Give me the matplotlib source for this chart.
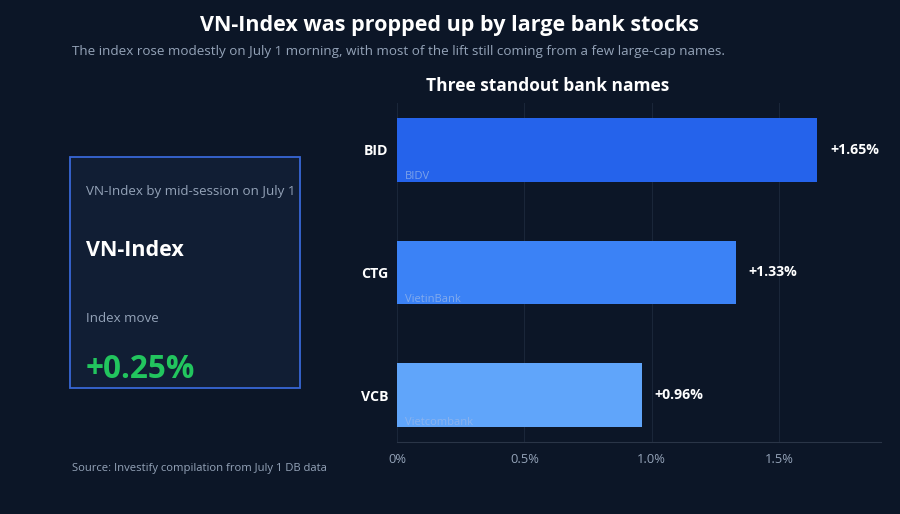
import matplotlib.pyplot as plt
from matplotlib.patches import Rectangle

plt.rcParams['font.family'] = ['Open Sans', 'Noto Sans', 'DejaVu Sans']

tickers = ["BID", "CTG", "VCB"]
bank_names = ["BIDV", "VietinBank", "Vietcombank"]
moves = [1.65, 1.33, 0.96]
bar_colors = ["#2563eb", "#3b82f6", "#60a5fa"]
x_ticks = [0, 0.5, 1.0, 1.5]
x_tick_labels = ["0%", "0.5%", "1.0%", "1.5%"]
index_move = 0.25

BG = "#0c1627"
W, H = 900, 514


def main():
    fig = plt.figure(figsize=(W / 100, H / 100), dpi=100, facecolor=BG)

    # ---- titles ----
    fig.text(450 / W, 1 - 25 / H, "VN-Index was propped up by large bank stocks",
             ha="center", va="center", fontsize=15.5, fontweight="bold", color="white")
    fig.text(72 / W, 1 - 52 / H,
             "The index rose modestly on July 1 morning, with most of the lift still coming from a few large-cap names.",
             ha="left", va="center", fontsize=9.7, color="#94a3b8")
    fig.text(548 / W, 1 - 86 / H, "Three standout bank names",
             ha="center", va="center", fontsize=12.5, fontweight="bold", color="white")
    fig.text(72 / W, 1 - 468 / H, "Source: Investify compilation from July 1 DB data",
             ha="left", va="center", fontsize=8.1, color="#94a3b8")

    # ---- KPI card ----
    bx0, by0, bx1, by1 = 70, 157, 300, 388
    fig.patches.append(Rectangle((bx0 / W, 1 - by1 / H), (bx1 - bx0) / W, (by1 - by0) / H,
                                 transform=fig.transFigure, facecolor="#111e34",
                                 edgecolor="#3867d6", linewidth=1.3))
    fig.text(86 / W, 1 - 192 / H, "VN-Index by mid-session on July 1",
             ha="left", va="center", fontsize=9.6, color="#94a3b8")
    fig.text(86 / W, 1 - 251 / H, "VN-Index",
             ha="left", va="center", fontsize=15.5, fontweight="bold", color="white")
    fig.text(86 / W, 1 - 318 / H, "Index move",
             ha="left", va="center", fontsize=9.6, color="#94a3b8")
    fig.text(86 / W, 1 - 369 / H, f"+{index_move:.2f}%",
             ha="left", va="center", fontsize=22.7, fontweight="bold", color="#22c55e")

    # ---- bar chart ----
    ax_l, ax_r, ax_t, ax_b = 397, 881, 103, 442
    ax = fig.add_axes([ax_l / W, 1 - ax_b / H, (ax_r - ax_l) / W, (ax_b - ax_t) / H])
    ax.set_facecolor(BG)
    ypos = list(range(len(tickers)))
    ax.barh(ypos, moves, height=0.52, color=bar_colors, zorder=2)
    ax.set_xlim(0, 1.9)
    ax.set_ylim(len(tickers) - 1 + 0.38, -0.38)

    for y, v, name in zip(ypos, moves, bank_names):
        ax.text(v + 0.05, y, f"+{v:.2f}%", ha="left", va="center",
                fontsize=10.2, fontweight="bold", color="white")
        ax.text(0.03, y + 0.22, name, ha="left", va="center",
                fontsize=8, color="#9ab8ea", alpha=0.75, zorder=3)

    ax.set_yticks(ypos)
    ax.set_yticklabels(tickers, fontsize=10.2, fontweight="bold", color="white")
    ax.set_xticks(x_ticks)
    ax.set_xticklabels(x_tick_labels, fontsize=9.3, color="#94a3b8")
    ax.tick_params(length=0, pad=8)
    ax.tick_params(axis="y", pad=6)
    ax.grid(axis="x", color="#1a2639", linewidth=0.8, zorder=0)
    for s in ["top", "right", "left"]:
        ax.spines[s].set_visible(False)
    ax.spines["bottom"].set_color("#2a3547")

    fig.savefig("out.png", dpi=100, facecolor=BG)


if __name__ == "__main__":
    main()
